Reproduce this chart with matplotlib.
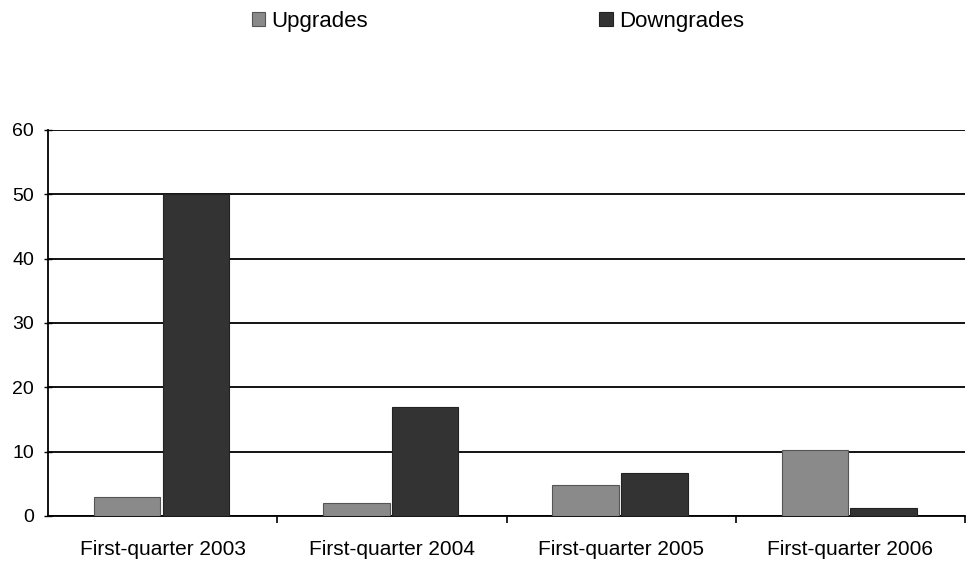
import matplotlib
matplotlib.use("Agg")
import matplotlib.pyplot as plt
import numpy as np

categories = ["First-quarter 2003", "First-quarter 2004", "First-quarter 2005", "First-quarter 2006"]
upgrades = [3, 2, 4.8, 10.2]
downgrades = [50, 17, 6.7, 1.3]
yticks = [0, 10, 20, 30, 40, 50, 60]

plt.rcParams['font.family'] = ['Liberation Sans', 'DejaVu Sans']

fig = plt.figure(figsize=(9.69, 5.62), dpi=100)
ax = fig.add_axes([0.0495, 0.0819, 0.9465, 0.6868])

x = np.arange(len(categories))
w = 0.29
ax.bar(x - 0.155, upgrades, w, color="#8a8a8a", edgecolor="#555555", linewidth=0.8, label="Upgrades", zorder=3)
ax.bar(x + 0.145, downgrades, w, color="#333333", edgecolor="#222222", linewidth=0.8, label="Downgrades", zorder=3)

ax.set_xlim(-0.5, len(categories) - 0.5)
ax.set_ylim(0, 60)
ax.set_yticks(yticks)
ax.set_yticklabels([str(v) for v in yticks], fontsize=14)
ax.yaxis.grid(True, color="black", linewidth=1.3, zorder=0)
ax.set_axisbelow(True)
ax.tick_params(axis='y', length=6, width=1, pad=7, direction='inout')

ax.set_xticks(x)
ax.set_xticklabels(categories, fontsize=15)
ax.tick_params(axis='x', length=0, pad=17)
ax.set_xticks(np.arange(len(categories)) + 0.5, minor=True)
ax.tick_params(axis='x', which='minor', length=5, width=1.2, direction='out')

for s in ["top", "right"]:
    ax.spines[s].set_visible(False)
ax.spines["left"].set_linewidth(1.3)
ax.spines["bottom"].set_linewidth(1.3)

fig.legend(loc="center", bbox_to_anchor=(0.514, 0.962), ncol=2, frameon=False,
           fontsize=16, handlelength=0.6, handleheight=0.6, handletextpad=0.3,
           columnspacing=10.4, borderaxespad=0)

fig.savefig("out.png", dpi=100)
